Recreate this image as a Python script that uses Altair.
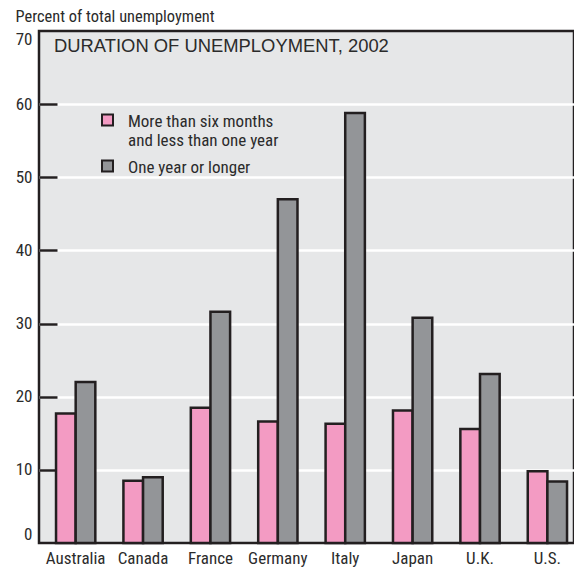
import altair as alt
import pandas as pd

countries = ["Australia", "Canada", "France", "Germany", "Italy", "Japan", "U.K.", "U.S."]
series_names = ["More than six months and less than one year", "One year or longer"]
six_to_twelve_months = [17.7, 8.5, 18.5, 16.6, 16.3, 18.1, 15.6, 9.8]
one_year_or_longer = [22.0, 9.0, 31.6, 47.0, 58.8, 30.8, 23.1, 8.4]
series_colors = ["#f39bc3", "#939598"]
y_ticks = [0, 10, 20, 30, 40, 50, 60, 70]

rows = []
for i, c in enumerate(countries):
    rows.append({"country": c, "series": series_names[0], "value": six_to_twelve_months[i]})
    rows.append({"country": c, "series": series_names[1], "value": one_year_or_longer[i]})
df = pd.DataFrame(rows)

NARROW = "Roboto Condensed, Liberation Sans Narrow, DejaVu Sans Condensed, sans-serif"
INK = "#231f20"
TEXT = "#2b2b2b"

label_expr = (
    "datum.label == 'More than six months and less than one year' ? "
    "['More than six months', 'and less than one year'] : datum.label"
)

# square shifted down so it lines up with the first label line (baseline top)
SHIFTED_SQUARE = "M-1,0.18H1V2.18H-1Z"

chart = (
    alt.Chart(df)
    .mark_bar(stroke=INK, strokeWidth=2.5)
    .encode(
        x=alt.X(
            "country:N",
            sort=countries,
            scale=alt.Scale(paddingInner=0.417, paddingOuter=0.178, align=0.71),
            axis=alt.Axis(
                title=None, labelAngle=0, ticks=False, domain=False,
                labelFont=NARROW, labelFontSize=17, labelColor=TEXT,
                labelPadding=7,
            ),
        ),
        xOffset=alt.XOffset(
            "series:N", sort=series_names,
            scale=alt.Scale(paddingInner=0, paddingOuter=0),
        ),
        y=alt.Y(
            "value:Q",
            scale=alt.Scale(domain=[0, 70], nice=False, zero=True),
            axis=alt.Axis(
                values=y_ticks,
                title="Percent of total unemployment",
                titleAngle=0, titleAlign="left", titleBaseline="alphabetic",
                titleX=-42, titleY=-9.5,
                titleFont=NARROW, titleFontSize=16.4, titleFontWeight="normal",
                titleColor=TEXT,
                offset=-18, tickSize=18, tickWidth=2.5, tickColor=INK,
                tickOpacity=alt.condition("datum.value == 0 || datum.value == 70", alt.value(0), alt.value(1)),
                domain=False,
                grid=True, gridColor="white", gridWidth=2.5,
                gridOpacity=alt.condition("datum.value == 0 || datum.value == 70", alt.value(0), alt.value(1)),
                labelFont=NARROW, labelFontSize=17, labelColor=TEXT,
                labelPadding=7, labelFlush=True,
            ),
        ),
        color=alt.Color(
            "series:N",
            scale=alt.Scale(domain=series_names, range=series_colors),
            legend=alt.Legend(
                title=None, orient="none", legendX=60, legendY=74,
                symbolType=SHIFTED_SQUARE, symbolSize=121,
                symbolStrokeColor=INK, symbolStrokeWidth=2,
                labelFont=NARROW, labelFontSize=17, labelColor=TEXT,
                labelBaseline="top", labelOffset=12, labelLimit=400,
                labelExpr=label_expr, rowPadding=2, padding=0,
            ),
        ),
    )
    .properties(
        width=535,
        height=512,
        background="white",
        title=alt.TitleParams(
            "DURATION OF UNEMPLOYMENT, 2002",
            anchor="start", frame="group", orient="top",
            font="Liberation Sans, Arial, sans-serif", fontSize=18.4,
            fontWeight="normal", color=TEXT, baseline="alphabetic",
            offset=0, dx=15, dy=61.5,
        ),
        autosize=alt.AutoSizeParams(type="none"),
        padding={"left": 31, "top": 23, "right": 0, "bottom": 25},
    )
    .configure_view(fill="#e6e7e8", stroke=INK, strokeWidth=2.5)
)

chart.save("out.html", embed_options={"renderer": "svg", "actions": False})
